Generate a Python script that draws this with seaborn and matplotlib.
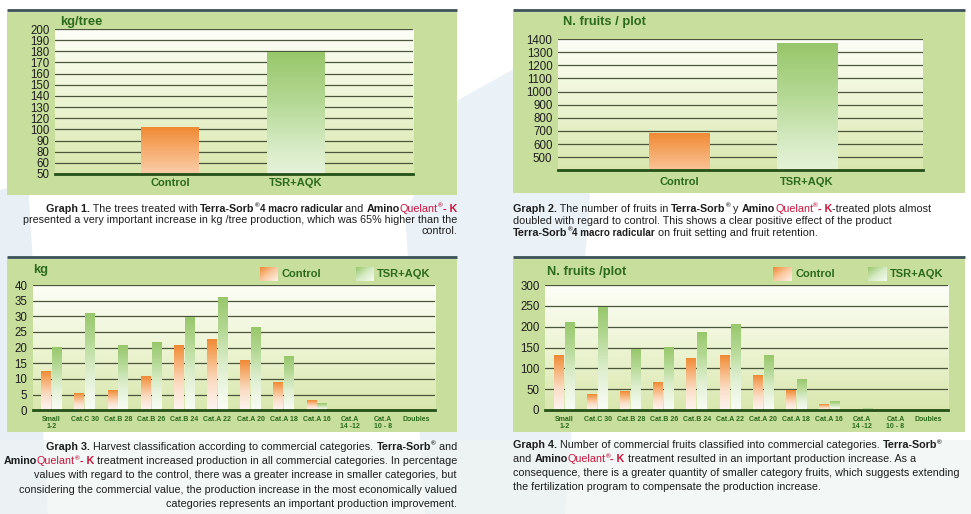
import numpy as np
import pandas as pd
import matplotlib
matplotlib.use("Agg")
import matplotlib.pyplot as plt
import seaborn as sns
from matplotlib.colors import LinearSegmentedColormap
from matplotlib.patches import Rectangle, Polygon

# ---------------- data ----------------
g1_groups = ["Control", "TSR+AQK"]
g1_kg_tree = [98, 176]
g1_tick_labels = ["50", "60", "80", "90", "100", "120", "130", "140",
                  "150", "160", "170", "180", "190", "200"]

g2_groups = ["Control", "TSR+AQK"]
g2_fruits_plot = [675, 1362]
g2_ticks = [500, 600, 700, 800, 900, 1000, 1100, 1200, 1300, 1400]

series = ["Control", "TSR+AQK"]
categories = ["Small\n1-2", "Cat.C 30", "Cat.B 28", "Cat.B 26", "Cat.B 24",
              "Cat.A 22", "Cat.A 20", "Cat.A 18", "Cat.A 16",
              "Cat.A\n14 -12", "Cat.A\n10 - 8", "Doubles"]
g3_control = [12.2, 5.4, 6.2, 10.6, 20.6, 22.5, 15.7, 8.8, 3.1, 0, 0, 0]
g3_tsr = [20.1, 30.7, 20.6, 21.6, 29.4, 36.0, 26.2, 17.1, 2.2, 0, 0, 0]
g3_ticks = [0, 5, 10, 15, 20, 25, 30, 35, 40]

g4_control = [131, 38, 45, 67, 123, 132, 84, 46, 13, 0, 0, 0]
g4_tsr = [210, 246, 146, 150, 186, 205, 132, 74, 20, 4, 0, 0]
g4_ticks = [0, 50, 100, 150, 200, 250, 300]

CAPTION_1 = [
    [("Graph 1.", "b"), (" The trees treated with ", "n"), ("Terra-Sorb", "b"), ("®", "sup"),
     ("4 macro radicular", "bs"), (" and ", "n"), ("Amino", "b"), ("Quelant", "r"),
     ("®", "rsup"), ("- K", "rb")],
    [("presented a very important increase in kg /tree production, which was 65% higher than the", "n")],
    [("control.", "n")],
]
CAPTION_2 = [
    [("Graph 2.", "b"), (" The number of fruits in ", "n"), ("Terra-Sorb", "b"), ("®", "sup"),
     (" y ", "n"), ("Amino", "b"), ("Quelant", "r"), ("®", "rsup"), ("- K", "rb"),
     ("-treated plots almost", "n")],
    [("doubled with regard to control. This shows a clear positive effect of the product", "n")],
    [("Terra-Sorb", "b"), ("®", "sup"), ("4 macro radicular", "bs"),
     (" on fruit setting and fruit retention.", "n")],
]
CAPTION_3 = [
    [("Graph 3.", "b"), (" Harvest classification according to commercial categories. ", "n"),
     ("Terra-Sorb", "b"), ("®", "sup"), (" and", "n")],
    [("Amino", "b"), ("Quelant", "r"), ("®", "rsup"), ("- K", "rb"),
     (" treatment increased production in all commercial categories. In percentage", "n")],
    [("values with regard to the control, there was a greater increase in smaller categories, but", "n")],
    [("considering the commercial value, the production increase in the most economically valued", "n")],
    [("categories represents an important production improvement.", "n")],
]
CAPTION_4 = [
    [("Graph 4.", "b"), (" Number of commercial fruits classified into commercial categories. ", "n"),
     ("Terra-Sorb", "b"), ("®", "sup")],
    [("and ", "n"), ("Amino", "b"), ("Quelant", "r"), ("®", "rsup"), ("- K", "rb"),
     (" treatment resulted in an important production increase. As a", "n")],
    [("consequence, there is a greater quantity of smaller category fruits, which suggests extending", "n")],
    [("the fertilization program to compensate the production increase.", "n")],
]

# ---------------- style ----------------
sns.set_style("white")
plt.rcParams["font.family"] = ["Liberation Sans", "DejaVu Sans"]

W, H = 971, 514
PANEL_GREEN = "#c8de9c"
GREEN_TXT = "#2b6a1d"
AXIS_GREEN = "#245018"
GRID = "#4a553b"
TXT = "#1e1e1e"
RED = "#c8173f"
ORANGE = "#f28c37"
GREEN = "#9ccb72"

PLOT_BG = LinearSegmentedColormap.from_list("pbg", ["#d9e7ae", "#edf4d4", "#fdfef8"])
ORANGE_BAR = LinearSegmentedColormap.from_list("ob", ["#fdf3ee", "#fbdcc4", "#f7b37a", "#f08a34"])
GREEN_BAR = LinearSegmentedColormap.from_list("gb", ["#f9fcf5", "#dcedcc", "#b4d894", "#98c76b"])
ORANGE_SW = LinearSegmentedColormap.from_list("os", ["#f08a34", "#f9c9a0", "#fdf1e7"])
GREEN_SW = LinearSegmentedColormap.from_list("gs", ["#98c76b", "#d6eac4", "#f6faf0"])
RAMP = np.linspace(0, 1, 256)[:, None]

fig = plt.figure(figsize=(W / 100, H / 100), dpi=100)
fig.patch.set_facecolor("white")

# background canvas in pixel units
bg = fig.add_axes([0, 0, 1, 1])
bg.axis("off")

# pale decorative shapes
bg.add_patch(Polygon([(0, 190), (28, 182), (48, 514), (0, 514)], fc="#e8f0f6", ec="none", zorder=0))
bg.add_patch(Polygon([(405, 215), (458, 100), (530, 60), (590, 195), (565, 514), (425, 514)],
                     fc="#ebf2f7", ec="none", zorder=0))
bg.add_patch(Rectangle((0, 440), W, 74, fc="#eef4f2", ec="none", alpha=0.7, zorder=0))

# panel boxes + top rules
for x0, x1, ytop, y1 in [(7, 457, 10, 195), (513, 965, 10, 193),
                         (7, 457, 257, 432), (513, 965, 257, 432)]:
    bg.add_patch(Rectangle((x0, ytop + 2), x1 - x0, y1 - ytop - 2, fc=PANEL_GREEN, ec="none", zorder=1))
    bg.plot([x0, x1], [ytop, ytop], color="#3c5058", lw=2, zorder=2, solid_capstyle="butt")


def px_axes(x0, y0, x1, y1):
    return fig.add_axes([x0 / W, 1 - y1 / H, (x1 - x0) / W, (y1 - y0) / H])


def paint_background(ax):
    ax.set_facecolor("none")
    ax.imshow(RAMP, cmap=PLOT_BG, extent=[0, 1, 0, 1], transform=ax.transAxes,
              origin="lower", aspect="auto", zorder=0)


def gradient_bars(ax, cmaps):
    for container, cmap in zip(ax.containers, cmaps):
        for bar in container:
            h = bar.get_height()
            bar.set_visible(False)
            if h <= 0:
                continue
            x0, y0, w = bar.get_x(), bar.get_y(), bar.get_width()
            ax.imshow(RAMP ** 1.2, cmap=cmap, extent=[x0, x0 + w, y0, y0 + h],
                      origin="lower", aspect="auto", zorder=2, interpolation="bilinear")


def style_common(ax):
    for side in ["top", "right", "left"]:
        ax.spines[side].set_visible(False)
    ax.spines["bottom"].set_color(AXIS_GREEN)
    ax.spines["bottom"].set_linewidth(2)
    ax.spines["bottom"].set_zorder(3)
    ax.grid(axis="y", color=GRID, lw=0.9)
    ax.grid(axis="x", visible=False)
    ax.tick_params(axis="y", length=3, width=0.9, color=GRID, labelsize=8.3,
                   labelcolor=TXT, pad=1)
    ax.set_xlabel("")
    ax.set_ylabel("")


# ---------------- Graph 1 ----------------
ax1 = px_axes(55, 29, 413, 174)
paint_background(ax1)
sns.barplot(x=g1_groups, y=g1_kg_tree, hue=g1_groups, palette=[ORANGE, GREEN],
            width=0.46, legend=False, ax=ax1)
gradient_bars(ax1, [ORANGE_BAR, GREEN_BAR])
style_common(ax1)
ax1.set_yticks(np.linspace(50, 200, len(g1_tick_labels)), labels=g1_tick_labels)
ax1.set_xticks([0, 1], labels=g1_groups)
ax1.tick_params(axis="x", length=0, pad=3, labelsize=8, labelcolor=GREEN_TXT)
for lbl in ax1.get_xticklabels():
    lbl.set_fontweight("bold")
ax1.set_ylim(50, 200)
ax1.set_xlim(-0.913, 1.929)

# ---------------- Graph 2 ----------------
ax2 = px_axes(558, 39, 923, 170.4)
paint_background(ax2)
sns.barplot(x=g2_groups, y=g2_fruits_plot, hue=g2_groups, palette=[ORANGE, GREEN],
            width=0.47, legend=False, ax=ax2)
gradient_bars(ax2, [ORANGE_BAR, GREEN_BAR])
style_common(ax2)
ax2.set_yticks(g2_ticks)
ax2.set_xticks([0, 1], labels=g2_groups)
ax2.tick_params(axis="x", length=0, pad=4.5, labelsize=8, labelcolor=GREEN_TXT)
for lbl in ax2.get_xticklabels():
    lbl.set_fontweight("bold")
ax2.set_ylim(400, 1400)
ax2.set_xlim(-0.945, 1.906)


# ---------------- Graphs 3 & 4 ----------------
def category_panel(ax, control, tsr, ticks, xlim):
    df = pd.DataFrame({
        "category": categories * 2,
        "series": [series[0]] * len(categories) + [series[1]] * len(categories),
        "value": list(control) + list(tsr),
    })
    paint_background(ax)
    sns.barplot(data=df, x="category", y="value", hue="series", order=categories,
                hue_order=series, palette=[ORANGE, GREEN], width=0.66, gap=0.1,
                legend=False, ax=ax)
    gradient_bars(ax, [ORANGE_BAR, GREEN_BAR])
    style_common(ax)
    ax.set_yticks(ticks)
    n = len(categories)
    ax.set_xticks(np.arange(-0.5, n), labels=[""] * (n + 1))
    ax.set_xticks(np.arange(n), labels=categories, minor=True)
    ax.tick_params(axis="x", which="major", direction="inout", length=6, width=1.2,
                   color=AXIS_GREEN)
    ax.tick_params(axis="x", which="minor", length=0, pad=4, labelsize=5,
                   labelcolor=GREEN_TXT)
    for lbl in ax.get_xticklabels(minor=True):
        lbl.set_fontweight("bold")
        lbl.set_linespacing(1.0)
    ax.set_ylim(ticks[0], ticks[-1])
    ax.set_xlim(*xlim)


ax3 = px_axes(33, 285, 435, 410.3)
category_panel(ax3, g3_control, g3_tsr, g3_ticks, (-0.56, 11.56))
ax4 = px_axes(545, 285, 948, 410)
category_panel(ax4, g4_control, g4_tsr, g4_ticks, (-0.59, 11.59))

# ---------------- titles & legends ----------------
for x, y, s in [(60, 22, "kg/tree"), (563, 22, "N. fruits / plot"),
                (33, 270, "kg"), (547, 272, "N. fruits /plot")]:
    bg.text(x, y, s, fontsize=9.3, fontweight="bold", color=GREEN_TXT, va="center", zorder=3)

sx, sy = np.meshgrid(np.linspace(0, 1, 32), np.linspace(0, 1, 32))
SWATCH = (sx + sy) / 2
for x0, x1, tx, cmap, label in [(260, 278, 282, ORANGE_SW, series[0]),
                                (356, 374, 377, GREEN_SW, series[1]),
                                (773, 792, 795, ORANGE_SW, series[0]),
                                (868, 887, 890, GREEN_SW, series[1])]:
    bg.imshow(SWATCH, cmap=cmap, extent=[x0, x1, 281, 267], origin="upper",
              aspect="auto", zorder=3)
    bg.text(tx, 274, label, fontsize=8, fontweight="bold", color=GREEN_TXT,
            va="center", zorder=3)

# ---------------- captions ----------------
STYLES = {
    "n": dict(scale=1.0, weight="normal", color=TXT, rise=0),
    "b": dict(scale=1.0, weight="bold", color=TXT, rise=0),
    "bs": dict(scale=0.92, weight="bold", color=TXT, rise=0),
    "r": dict(scale=1.0, weight="normal", color=RED, rise=0),
    "rb": dict(scale=1.0, weight="bold", color=RED, rise=0),
    "sup": dict(scale=0.6, weight="bold", color=TXT, rise=0.42),
    "rsup": dict(scale=0.6, weight="bold", color=RED, rise=0.42),
}
bg.set_xlim(0, W)
bg.set_ylim(H, 0)
renderer = fig.canvas.get_renderer()


def ink_width(s, size, st):
    t = bg.text(0, 0, s, fontsize=size * st["scale"], fontweight=st["weight"])
    w = t.get_window_extent(renderer).width
    t.remove()
    return w


def advance(s, size, st):
    # width including spaces: bracket the string with a glyph on each side
    return ink_width("X" + s + "X", size, st) - ink_width("XX", size, st)


def draw_caption(lines, x, baselines, size, ha):
    for line, yb in zip(lines, baselines):
        widths = [advance(s, size, STYLES[key]) for s, key in line]
        cx = x - sum(widths) if ha == "right" else x
        for (s, key), w in zip(line, widths):
            st = STYLES[key]
            bg.text(cx, yb - st["rise"] * size * 100 / 72, s, fontsize=size * st["scale"],
                    fontweight=st["weight"], color=st["color"], va="baseline", ha="left", zorder=3)
            cx += w


CAP_SIZE = 7.72
draw_caption(CAPTION_1, 457, [211.5, 223, 234.5], CAP_SIZE, "right")
draw_caption(CAPTION_2, 513, [211.5, 223.5, 235.5], CAP_SIZE, "left")
draw_caption(CAPTION_3, 457, [450, 464.5, 478.5, 493, 507], CAP_SIZE, "right")
draw_caption(CAPTION_4, 513, [448.5, 462.5, 476, 489.5], CAP_SIZE, "left")

bg.set_xlim(0, W)
bg.set_ylim(H, 0)
fig.savefig("out.png", dpi=100)
